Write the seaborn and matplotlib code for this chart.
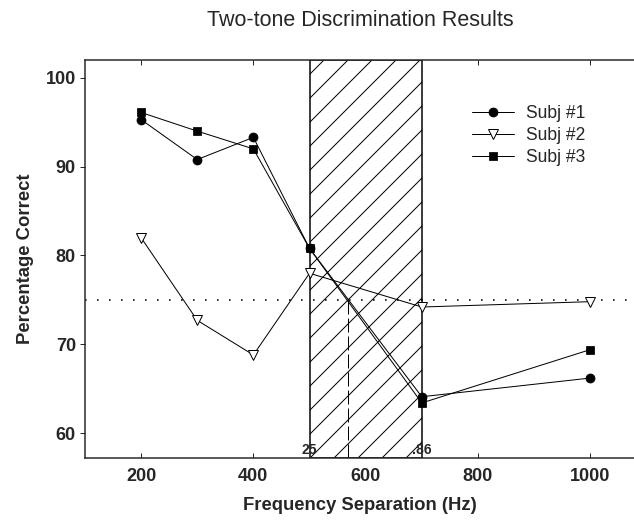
import matplotlib
matplotlib.use("Agg")
import matplotlib.pyplot as plt
import seaborn as sns

# Frequency separations (Hz) and percent correct per subject
freq = [200, 300, 400, 500, 700, 1000]
subj1 = [95.3, 90.8, 93.3, 80.8, 64.1, 66.2]
subj2 = [82.0, 72.7, 68.8, 78.0, 74.2, 74.8]
subj3 = [96.1, 94.0, 92.0, 80.8, 63.4, 69.4]
names = ["Subj #1", "Subj #2", "Subj #3"]

# Shaded band and its end labels, threshold line
band = [500, 700]
band_labels = ["25", ".86"]
threshold = 75
cross_x = 568

sns.set_style("ticks")
plt.rcParams["font.family"] = ["Liberation Sans", "DejaVu Sans"]
plt.rcParams["hatch.linewidth"] = 1.0

fig = plt.figure(figsize=(634 / 72, 525 / 72), dpi=72)
ax = fig.add_axes([0.134, 0.1276, 0.866, 0.758])
ax.set_xlim(100, 1078)
ax.set_ylim(57.2, 102)

ax.axvspan(band[0], band[1], facecolor="white", edgecolor="black", hatch="/", lw=1.5, zorder=1)
for b, lab in zip(band, band_labels):
    ax.text(b, 57.35, lab, ha="center", va="bottom", fontsize=14, fontweight="bold", zorder=5)

ax.axhline(threshold, color="black", ls=(0, (1, 6.5)), lw=1.6, zorder=2)
ax.vlines(cross_x, 57.2, threshold, color="black", ls=(0, (14, 4)), lw=1, zorder=2)

sns.lineplot(x=freq, y=subj1, ax=ax, color="black", lw=1, marker="o", markersize=9,
             markeredgecolor="black", markerfacecolor="black", label=names[0], zorder=4)
sns.lineplot(x=freq, y=subj2, ax=ax, color="black", lw=1, marker="v", markersize=9.5,
             markeredgecolor="black", markerfacecolor="white", markeredgewidth=1, label=names[1], zorder=4)
sns.lineplot(x=freq, y=subj3, ax=ax, color="black", lw=1, marker="s", markersize=8,
             markeredgecolor="black", markerfacecolor="black", label=names[2], zorder=4)

ax.legend(loc="upper left", bbox_to_anchor=(0.7445, 0.80), bbox_transform=fig.transFigure,
          frameon=False, fontsize=17.5, handlelength=2.4, labelspacing=0.3, handletextpad=0.7,
          borderpad=0, borderaxespad=0)

ax.set_xticks([200, 400, 600, 800, 1000])
ax.set_yticks([60, 70, 80, 90, 100])
ax.tick_params(axis="x", direction="in", top=True, length=5, width=1, labelsize=18, pad=10)
ax.tick_params(axis="y", direction="out", length=5, width=1, labelsize=18, pad=4)
for t in ax.get_xticklabels() + ax.get_yticklabels():
    t.set_fontweight("bold")
for s in ["left", "bottom", "top"]:
    ax.spines[s].set_linewidth(1.5)
ax.spines["right"].set_visible(False)

ax.set_xlabel("Frequency Separation (Hz)", fontsize=18.5, fontweight="bold", labelpad=12)
ax.set_ylabel("Percentage Correct", fontsize=18.5, fontweight="bold", labelpad=12)
fig.text(0.568, 0.96, "Two-tone Discrimination Results", ha="center", va="center", fontsize=21.5)

fig.savefig("out.png", dpi=72)
